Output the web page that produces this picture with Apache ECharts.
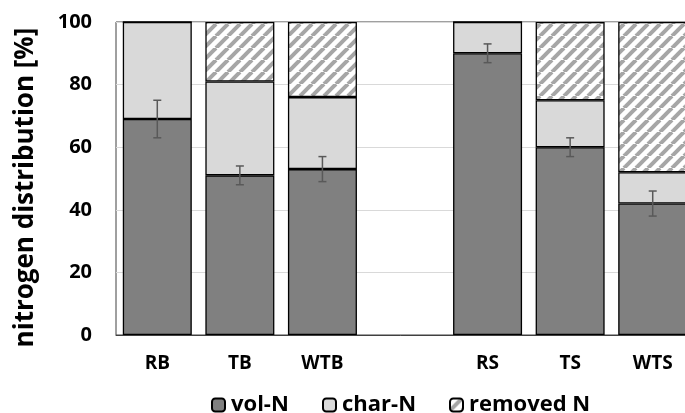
<!DOCTYPE html>
<html><head><meta charset="utf-8">
<script src="https://cdn.jsdelivr.net/npm/echarts@6/dist/echarts.min.js"></script>
<style>html,body{margin:0;padding:0;background:#fff}#c{width:685px;height:413px}</style>
</head><body><div id="c"></div>
<script>
const categories = ['RB','TB','WTB','','RS','TS','WTS'];
const seriesNames = ['vol-N','char-N','removed N'];
const volN = [69, 51, 53, null, 90, 60, 42];
const charN = [31, 30, 23, null, 10, 15, 10];
const removedN = [0, 19, 24, null, 0, 25, 48];
const errLow = [63, 48, 49, null, 87, 57, 38];
const errHigh = [75, 54, 57, null, 93, 63, 46];
const yTicks = [0, 20, 40, 60, 80, 100];

function hatch(){
  const s = 12, c = document.createElement('canvas');
  c.width = s; c.height = s;
  const g = c.getContext('2d');
  g.fillStyle = '#fff'; g.fillRect(0,0,s,s);
  g.strokeStyle = '#a6a6a6'; g.lineWidth = 4;
  for (let k = -1; k <= 1; k++) {
    g.beginPath(); g.moveTo(k*s, s); g.lineTo(k*s + s, 0); g.stroke();
  }
  return {image: c, repeat: 'repeat'};
}

const chart = echarts.init(document.getElementById('c'), null, {renderer:'canvas'});
const font = '"Open Sans", sans-serif';
const errData = categories.map((c,i)=> errLow[i]==null ? null : [i, errLow[i], errHigh[i]]).filter(d=>d);
const legendLefts = [211, 322, 449];
const legends = seriesNames.map((n,i)=>({left:legendLefts[i], top:394, itemWidth:13, itemHeight:13, padding:0,
    textStyle:{fontFamily:font, fontWeight:'bold', fontSize:22, color:'#000', padding:[0,0,0,1]},
    data:[n]}));
chart.setOption({
  animation:false,
  grid:{left:116, top:22, width:578, height:313, outerBoundsMode:'none', containLabel:false,
    show:true, borderColor:'#404040', borderWidth:1, backgroundColor:'#fff'},
  legend:legends,
  xAxis:{type:'category', data:categories, axisTick:{show:false},
    axisLine:{lineStyle:{color:'#404040'}},
    axisLabel:{margin:19, fontFamily:font, fontWeight:'bold', fontSize:19, color:'#000'}},
  yAxis:{type:'value', min:yTicks[0], max:yTicks[yTicks.length-1], interval:20,
    name:'nitrogen distribution [%]', nameLocation:'middle', nameGap:77,
    nameTextStyle:{fontFamily:font, fontWeight:'bold', fontSize:26, color:'#000', padding:[0,18,0,0]},
    axisLine:{show:false}, axisTick:{show:false},
    splitLine:{lineStyle:{color:'#d9d9d9', width:1}},
    axisLabel:{margin:24, fontFamily:font, fontWeight:'bold', fontSize:20, color:'#000'}},
  series:[
    {name:seriesNames[0], type:'bar', stack:'n', data:volN, barWidth:69,
      itemStyle:{color:'#808080', borderColor:'#000', borderWidth:1.3}},
    {name:seriesNames[1], type:'bar', stack:'n', data:charN, barWidth:69,
      itemStyle:{color:'#d9d9d9', borderColor:'#000', borderWidth:1.3}},
    {name:seriesNames[2], type:'bar', stack:'n', data:removedN, barWidth:69,
      itemStyle:{color:hatch(), borderColor:'#000', borderWidth:1.3}},
    {type:'custom', data:errData, z:10,
      renderItem:function(params, api){
        const x = api.value(0), lo = api.coord([x, api.value(1)]), hi = api.coord([x, api.value(2)]);
        const w = 4;
        const st = {stroke:'#595959', lineWidth:1.5};
        return {type:'group', children:[
          {type:'line', shape:{x1:lo[0], y1:lo[1], x2:hi[0], y2:hi[1]}, style:st},
          {type:'line', shape:{x1:lo[0]-w, y1:lo[1], x2:lo[0]+w, y2:lo[1]}, style:st},
          {type:'line', shape:{x1:hi[0]-w, y1:hi[1], x2:hi[0]+w, y2:hi[1]}, style:st}
        ]};
      }}
  ]
});
</script></body></html>
